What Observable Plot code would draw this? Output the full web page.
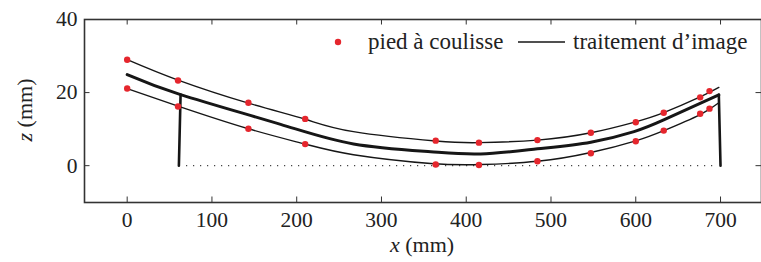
<!DOCTYPE html>
<html>
<head>
<meta charset="utf-8">
<script src="https://cdn.jsdelivr.net/npm/d3@7"></script>
<script src="https://cdn.jsdelivr.net/npm/@observablehq/plot@0.6"></script>
<style>
  html, body { margin: 0; padding: 0; background: #fff; }
  #wrap { position: relative; width: 761px; height: 262px; }
  #chart svg { display: block; }
  .ov { position: absolute; font-family: "Liberation Serif"; color: #222; white-space: nowrap; line-height: 1; }
</style>
</head>
<body>
<div id="wrap"><div id="chart"></div></div>
<script>
// ---- data ----
const caliperX = [0, 60, 143, 210, 364, 415, 484, 547, 600, 633, 676, 687];
const caliperUpper = [29.0, 23.3, 17.2, 12.8, 6.85, 6.3, 7.0, 9.0, 11.9, 14.5, 18.7, 20.4];
const caliperLower = [21.1, 16.2, 10.1, 5.9, 0.3, 0.2, 1.2, 3.4, 6.7, 9.6, 14.2, 15.6];

const upperX = [0, 60, 143, 210, 267, 364, 415, 484, 547, 600, 633, 676, 698];
const upperZ = [29.0, 23.4, 17.1, 12.7, 9.3, 6.75, 6.3, 7.0, 9.0, 12.0, 14.5, 18.8, 21.4];

const lowerX = [0, 60, 143, 210, 267, 358, 417, 484, 547, 600, 633, 676, 698];
const lowerZ = [21.1, 16.3, 10.1, 5.9, 3.0, 0.6, 0.3, 1.2, 3.6, 6.8, 9.6, 14.0, 17.2];

const meanX = [0, 63, 181, 267, 358, 417, 484, 547, 598, 633, 698];
const meanZ = [24.9, 19.45, 11.3, 5.95, 3.8, 3.2, 4.6, 6.4, 9.3, 12.5, 19.4];

const leftPostX = [61, 63];
const leftPostZ = [0, 19.45];
const rightPostX = [698, 700];
const rightPostZ = [19.4, 0];

const baselineX = [70, 692];
const baselineZ = 0;

const xTicks = [0, 100, 200, 300, 400, 500, 600, 700];
const yTicks = [0, 20, 40];

const legendLabels = ["pied à coulisse", "traitement d’image"];

// ---- build tables ----
const zip = (xs, ys) => xs.map((x, i) => ({x, z: ys[i]}));
const upperPts = zip(caliperX, caliperUpper);
const lowerPts = zip(caliperX, caliperLower);
const upperCurve = zip(upperX, upperZ);
const lowerCurve = zip(lowerX, lowerZ);
const meanCurve = zip(meanX, meanZ);
const leftPost = zip(leftPostX, leftPostZ);
const rightPost = zip(rightPostX, rightPostZ);
const baseline = [{x1: baselineX[0], x2: baselineX[1], z: baselineZ}];

const W = 761, H = 262;
const mL = 84, mR = 0, mT = 19, mB = 60;
const frameH = H - mT - mB, frameW = W - mL - mR;
const ink = "#161616";
const red = "#e5262d";
const tickLen = 5.5;
const FONT = "Liberation Serif";

const plot = Plot.plot({
  width: W,
  height: H,
  marginLeft: mL,
  marginRight: mR,
  marginTop: mT,
  marginBottom: mB,
  style: {background: "#fff"},
  x: {domain: [-50, 750], range: [84.3, 762.4]},
  y: {domain: [-10, 40], range: [201.7, 19]},
  marks: [
    Plot.ruleY(baseline, {y: "z", x1: "x1", x2: "x2", stroke: "#444", strokeWidth: 1.2, strokeDasharray: "1.2,5.8"}),
    Plot.line(upperCurve, {x: "x", y: "z", curve: "natural", stroke: ink, strokeWidth: 1.4}),
    Plot.line(lowerCurve, {x: "x", y: "z", curve: "natural", stroke: ink, strokeWidth: 1.4}),
    Plot.line(meanCurve, {x: "x", y: "z", curve: "natural", stroke: ink, strokeWidth: 3}),
    Plot.line(leftPost, {x: "x", y: "z", stroke: ink, strokeWidth: 2.6}),
    Plot.line(rightPost, {x: "x", y: "z", stroke: ink, strokeWidth: 2.6}),
    Plot.dot(upperPts, {x: "x", y: "z", r: 3.2, fill: red, stroke: "none"}),
    Plot.dot(lowerPts, {x: "x", y: "z", r: 3.2, fill: red, stroke: "none"}),
    // inward ticks on all four sides
    Plot.tickX(xTicks, {x: d => d, stroke: "#333", strokeWidth: 1, insetBottom: frameH - tickLen}),
    Plot.tickX(xTicks, {x: d => d, stroke: "#333", strokeWidth: 1, insetTop: frameH - tickLen}),
    Plot.tickY(yTicks, {y: d => d, stroke: "#333", strokeWidth: 1, insetRight: frameW - tickLen}),
    Plot.tickY(yTicks, {y: d => d, stroke: "#333", strokeWidth: 1, insetLeft: frameW - tickLen}),
    Plot.axisX(xTicks, {tickSize: 0, tickPadding: 9, label: null, fill: "#222", fontSize: 21.5, fontFamily: FONT}),
    Plot.axisY(yTicks, {tickSize: 0, tickPadding: 7, label: null, fill: "#222", fontSize: 21.5, fontFamily: FONT}),
    Plot.frame({stroke: "#333", strokeWidth: 1.6})
  ]
});

const svg = d3.select(plot);
// legend swatches inside the frame
svg.append("circle").attr("cx", 338).attr("cy", 42).attr("r", 3.2).attr("fill", red);
svg.append("line").attr("x1", 518).attr("x2", 565).attr("y1", 42).attr("y2", 42)
  .attr("stroke", ink).attr("stroke-width", 1.4);

document.getElementById("chart").appendChild(plot);

// texts laid over the chart as HTML
const wrap = d3.select("#wrap");
function ov(html, left, top, size, extra) {
  return wrap.append("div").attr("class", "ov")
    .style("left", left + "px").style("top", top + "px")
    .style("font-size", size + "px")
    .attr("style", function() { return this.getAttribute("style") + (extra || ""); })
    .html(html);
}
ov(legendLabels[0], 368, 30, 23);
ov(legendLabels[1], 573, 30, 23);
ov("<i>x</i> (mm)", 422, 234, 22, "transform: translateX(-50%);");
ov("<i>z</i> (mm)", 25, 110, 22, "transform: translate(-50%, -50%) rotate(-90deg);");
</script>
</body>
</html>
